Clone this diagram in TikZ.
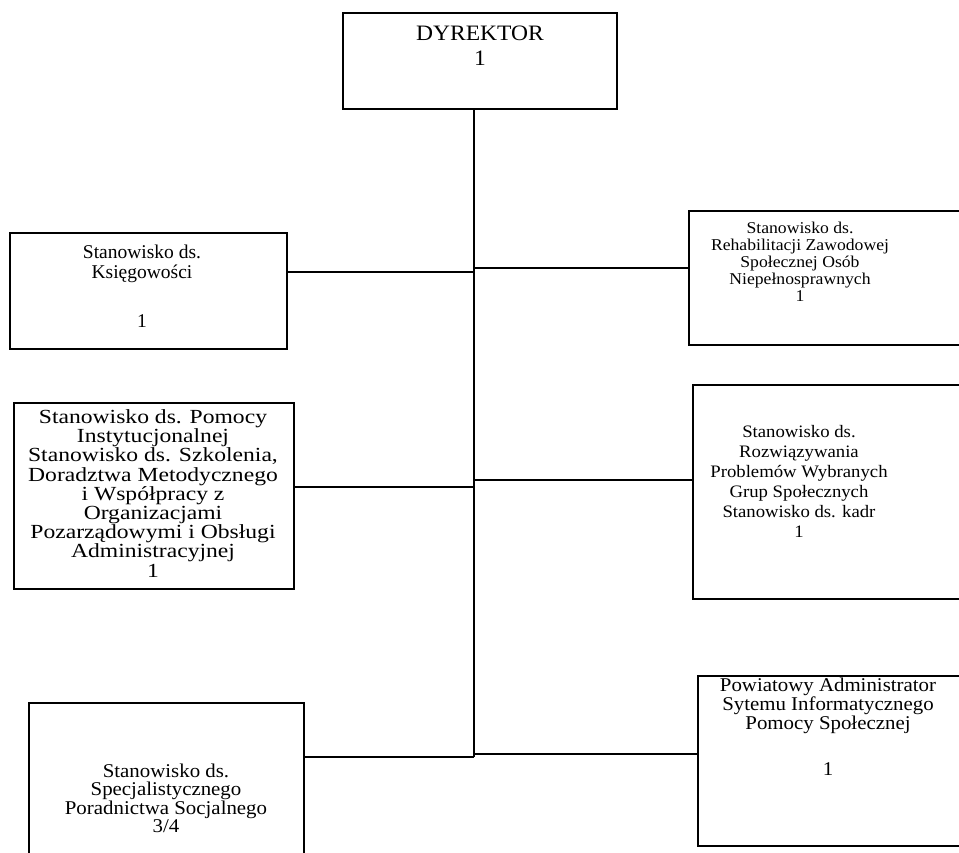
\documentclass[tikz,border=0pt]{standalone}
\usepackage{fontspec}
\setmainfont{Liberation Serif}
\newfontfamily\widea{Liberation Serif}[FakeStretch=1.18]
\newfontfamily\wideb{Liberation Serif}[FakeStretch=1.07]
\newcommand{\fs}[2]{\fontsize{#1}{#2}\selectfont\lineskiplimit=-100pt\relax}
\begin{document}
\begin{tikzpicture}[x=1pt,y=-1pt,
  box/.style={draw=black,line width=1.6pt,inner sep=0pt,anchor=north west},
  txt/.style={align=center,inner sep=0pt,anchor=north},
  conn/.style={draw=black,line width=1.6pt}]
\useasboundingbox (0,0) rectangle (959,852);
\clip (0,0) rectangle (959,852);
% boxes
\node[box,minimum width=274pt,minimum height=96pt] (dyr) at (342,12) {};
\node[box,minimum width=277pt,minimum height=116pt] (ksi) at (9,232) {};
\node[box,minimum width=290pt,minimum height=134pt] (reh) at (688,210) {};
\node[box,minimum width=280pt,minimum height=186pt] (pom) at (13,402) {};
\node[box,minimum width=290pt,minimum height=214pt] (roz) at (692,384) {};
\node[box,minimum width=275pt,minimum height=180pt] (spe) at (28,702) {};
\node[box,minimum width=290pt,minimum height=170pt] (pow) at (697,675) {};
% texts
\node[txt,font=\wideb\fs{22}{25}] (dyrT) at (480,25.5) {DYREKTOR\\1};
\node[txt,font=\fs{19.5}{20}] (ksiT) at (142,244.5) {Stanowisko ds.\\Księgowości\\[29pt]1};
\node[txt,font=\wideb\fs{16.5}{17}] (rehT) at (800,221.5) {Stanowisko ds.\\Rehabilitacji Zawodowej\\Społecznej Osób\\Niepełnosprawnych\\1};
\node[txt,font=\widea\fs{20}{19.2}] (pomT) at (153,409.5) {Stanowisko ds. Pomocy\\Instytucjonalnej\\Stanowisko ds. Szkolenia,\\Doradztwa Metodycznego\\i Współpracy z\\Organizacjami\\Pozarządowymi i Obsługi\\Administracyjnej\\1};
\node[txt,font=\wideb\fs{17.5}{20}] (rozT) at (799,425) {Stanowisko ds.\\Rozwiązywania\\Problemów Wybranych\\Grup Społecznych\\Stanowisko ds. kadr\\1};
\node[txt,font=\wideb\fs{19.5}{18.4}] (speT) at (166,763.7) {Stanowisko ds.\\Specjalistycznego\\Poradnictwa Socjalnego\\3/4};
\node[txt,font=\wideb\fs{19.5}{19}] (powT) at (828,678) {Powiatowy Administrator\\Sytemu Informatycznego\\Pomocy Społecznej\\[27pt]1};
% trunk
\coordinate (tTop) at (474,108);
\coordinate (tBot) at (474,757);
\draw[conn] (tTop) -- (tBot);
\coordinate (j1) at (474,272);
\coordinate (j2) at (474,268);
\coordinate (j3) at (474,487);
\coordinate (j4) at (474,480);
\coordinate (j5) at (474,757);
\coordinate (j6) at (474,754);
\draw[conn] (j1) -- (j1 -| ksi.east);
\draw[conn] (j2) -- (j2 -| reh.west);
\draw[conn] (j3) -- (j3 -| pom.east);
\draw[conn] (j4) -- (j4 -| roz.west);
\draw[conn] (j5) -- (j5 -| spe.east);
\draw[conn] (j6) -- (j6 -| pow.west);
\end{tikzpicture}
\end{document}
